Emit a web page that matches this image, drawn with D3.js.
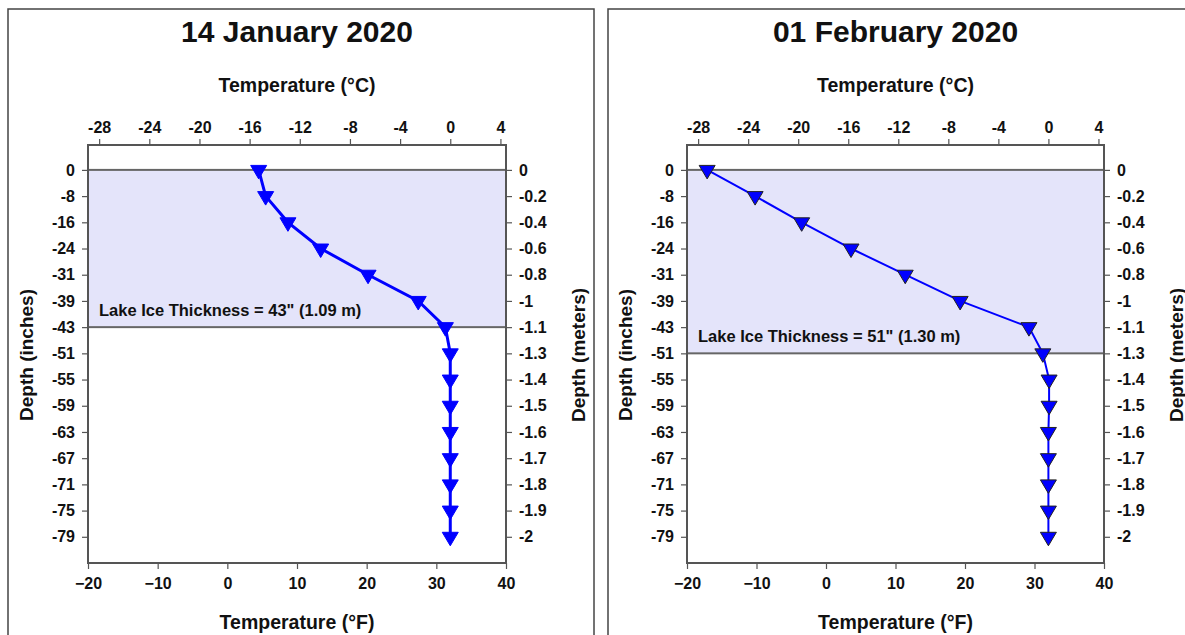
<!DOCTYPE html>
<html>
<head>
<meta charset="utf-8">
<script src="https://cdn.jsdelivr.net/npm/d3@7"></script>
<style>
  html, body { margin: 0; padding: 0; background: #fff; }
  svg { display: block; font-family: "Liberation Sans", Arial, Helvetica, sans-serif; }
  .tick line { stroke: #555; stroke-width: 1.2; }
</style>
</head>
<body>
<svg id="chart" width="1185" height="635"></svg>
<script>
// Sensor depths (evenly spaced on the chart), labelled in inches and in meters
const depthInches = [0, -8, -16, -24, -31, -39, -43, -51, -55, -59, -63, -67, -71, -75, -79];
const depthMeters = ["0", "-0.2", "-0.4", "-0.6", "-0.8", "-1", "-1.1", "-1.3", "-1.4", "-1.5", "-1.6", "-1.7", "-1.8", "-1.9", "-2"];

// Temperature profiles (°F) at each depth
const tempJan14F = [4.5, 5.5, 8.7, 13.4, 20.2, 27.4, 31.3, 32.0, 32.0, 32.0, 32.0, 32.0, 32.0, 32.0, 32.0];
const tempFeb01F = [-17.1, -10.2, -3.5, 3.6, 11.4, 19.3, 29.2, 31.2, 32.1, 32.1, 32.0, 32.0, 32.0, 32.0, 32.0];

// Axis tick values
const ticksF = [-20, -10, 0, 10, 20, 30, 40];
const ticksC = [-28, -24, -20, -16, -12, -8, -4, 0, 4];

// Panel titles and ice thickness notes
const panelTitles = ["14 January 2020", "01 February 2020"];
const iceThicknessIn = [43, 51];
const iceLabels = ["Lake Ice Thickness = 43\" (1.09 m)", "Lake Ice Thickness = 51\" (1.30 m)"];

const svg = d3.select("#chart");
const cToF = c => c * 1.8 + 32;

const panels = [
  { title: panelTitles[0], temps: tempJan14F, ice: iceThicknessIn[0], iceLabel: iceLabels[0],
    box: [8, 9, 586], plotX: [88, 506], lineW: 3, markerStroke: "#0000ff" },
  { title: panelTitles[1], temps: tempFeb01F, ice: iceThicknessIn[1], iceLabel: iceLabels[1],
    box: [608, 9, 600], plotX: [687, 1104], lineW: 2, markerStroke: "#222" }
];

const plotTop = 145, plotBottom = 563;
const triangleDown = "M-8,-4.5L8,-4.5L0,9Z";
const fontFamily = '"Liberation Sans", Arial, Helvetica, sans-serif';

function styleAxis(a) {
  a.select(".domain").remove();
  a.attr("font-family", fontFamily).attr("font-size", 16);
  a.selectAll(".tick text").attr("font-weight", "bold").attr("fill", "#111");
}

panels.forEach(p => {
  const g = svg.append("g");

  // panel frame
  g.append("rect")
    .attr("x", p.box[0]).attr("y", p.box[1])
    .attr("width", p.box[2]).attr("height", 700)
    .attr("fill", "none").attr("stroke", "#444").attr("stroke-width", 1.5);

  const x = d3.scaleLinear().domain([-20, 40]).range(p.plotX);
  const y = d3.scaleLinear().domain([-0.95, 15.0]).range([plotTop, plotBottom]);
  const idx = d3.range(depthInches.length);
  const cx = (p.plotX[0] + p.plotX[1]) / 2;

  // ice layer
  const iceIdx = depthInches.indexOf(-p.ice);
  g.append("rect")
    .attr("x", x(-20)).attr("y", y(0))
    .attr("width", x(40) - x(-20)).attr("height", y(iceIdx) - y(0))
    .attr("fill", "#e4e4fa").attr("stroke", "#666").attr("stroke-width", 2);

  g.append("text")
    .attr("x", x(-20) + 11).attr("y", y(iceIdx) - 11)
    .attr("font-weight", "bold").attr("font-size", 16.5).attr("fill", "#111")
    .text(p.iceLabel);

  // plot frame
  g.append("rect")
    .attr("x", x(-20)).attr("y", plotTop)
    .attr("width", x(40) - x(-20)).attr("height", plotBottom - plotTop)
    .attr("fill", "none").attr("stroke", "#555").attr("stroke-width", 2);

  // axes
  g.append("g").attr("transform", `translate(0,${plotBottom})`)
    .call(d3.axisBottom(x).tickValues(ticksF).tickSize(6).tickPadding(9))
    .call(styleAxis);
  g.append("g").attr("transform", `translate(0,${plotTop})`)
    .call(d3.axisTop(x).tickValues(ticksC.map(cToF)).tickFormat((d, i) => ticksC[i]).tickSize(6).tickPadding(6))
    .call(styleAxis);
  g.append("g").attr("transform", `translate(${x(-20)},0)`)
    .call(d3.axisLeft(y).tickValues(idx).tickFormat(i => depthInches[i]).tickSize(6).tickPadding(7))
    .call(styleAxis);
  g.append("g").attr("transform", `translate(${x(40)},0)`)
    .call(d3.axisRight(y).tickValues(idx).tickFormat(i => depthMeters[i]).tickSize(6).tickPadding(7))
    .call(styleAxis);

  // profile line and markers
  const line = d3.line().x((d, i) => x(d)).y((d, i) => y(i));
  g.append("path").datum(p.temps)
    .attr("d", line).attr("fill", "none")
    .attr("stroke", "#0000ff").attr("stroke-width", p.lineW);

  g.selectAll(".marker").data(p.temps).join("path")
    .attr("class", "marker")
    .attr("d", triangleDown)
    .attr("transform", (d, i) => `translate(${x(d)},${y(i)})`)
    .attr("fill", "#0000ff").attr("stroke", p.markerStroke).attr("stroke-width", 1);

  // titles
  g.append("text").attr("x", cx).attr("y", 42).attr("text-anchor", "middle")
    .attr("font-weight", "bold").attr("font-size", 30).attr("fill", "#111").text(p.title);
  g.append("text").attr("x", cx).attr("y", 92).attr("text-anchor", "middle")
    .attr("font-weight", "bold").attr("font-size", 19.5).attr("fill", "#111").text("Temperature (°C)");
  g.append("text").attr("x", cx).attr("y", 629).attr("text-anchor", "middle")
    .attr("font-weight", "bold").attr("font-size", 19.5).attr("fill", "#111").text("Temperature (°F)");

  const midY = 355;
  g.append("text")
    .attr("transform", `translate(${p.plotX[0] - 55},${midY}) rotate(-90)`)
    .attr("text-anchor", "middle").attr("font-weight", "bold").attr("font-size", 19).attr("fill", "#111")
    .text("Depth (inches)");
  g.append("text")
    .attr("transform", `translate(${p.plotX[1] + 79},${midY}) rotate(-90)`)
    .attr("text-anchor", "middle").attr("font-weight", "bold").attr("font-size", 19).attr("fill", "#111")
    .text("Depth (meters)");
});
</script>
</body>
</html>
